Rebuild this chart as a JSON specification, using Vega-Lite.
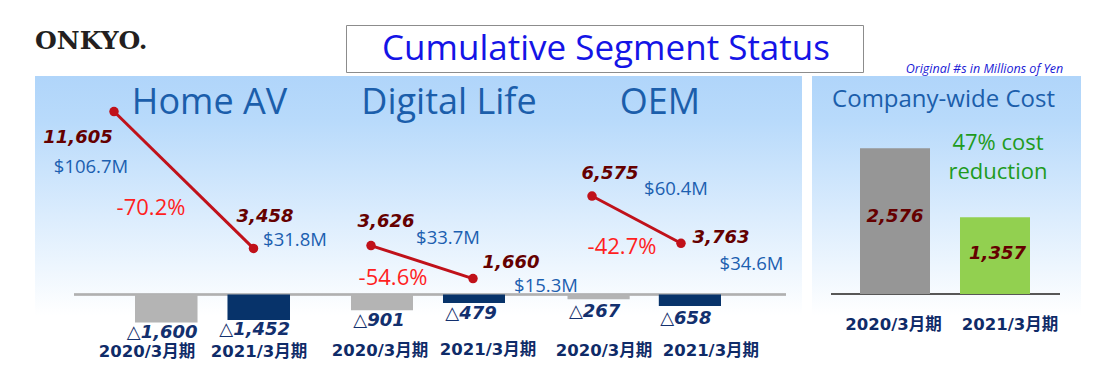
{
 "$schema": "https://vega.github.io/schema/vega-lite/v6.json",
 "background": "white",
 "padding": {"left": 35, "top": 24, "right": 0, "bottom": 0},
 "config": {"view": {"stroke": null}},
 "datasets": {
  "seg": [
   {"segment": "Home AV", "period": "2020/3月期", "revenue": 11605, "usd": "$106.7M", "op": -1600, "oplabel": "△1,600", "change": "-70.2%"},
   {"segment": "Home AV", "period": "2021/3月期", "revenue": 3458, "usd": "$31.8M", "op": -1452, "oplabel": "△1,452", "change": "-70.2%"},
   {"segment": "Digital Life", "period": "2020/3月期", "revenue": 3626, "usd": "$33.7M", "op": -901, "oplabel": "△901", "change": "-54.6%"},
   {"segment": "Digital Life", "period": "2021/3月期", "revenue": 1660, "usd": "$15.3M", "op": -479, "oplabel": "△479", "change": "-54.6%"},
   {"segment": "OEM", "period": "2020/3月期", "revenue": 6575, "usd": "$60.4M", "op": -267, "oplabel": "△267", "change": "-42.7%"},
   {"segment": "OEM", "period": "2021/3月期", "revenue": 3763, "usd": "$34.6M", "op": -658, "oplabel": "△658", "change": "-42.7%"}
  ],
  "cost": [
   {"period": "2020/3月期", "cost": 2576, "note": ""},
   {"period": "2021/3月期", "cost": 1357, "note": "47% cost\nreduction"}
  ],
  "header": [{"logo": "ONKYO.", "title": "Cumulative Segment Status", "unit": "Original #s in Millions of Yen"}]
 },
 "spacing": 0,
 "vconcat": [
  {
   "spacing": 0,
   "bounds": "flush",
   "hconcat": [
    {"width": 311, "height": 51, "view": {"stroke": null}, "data": {"name": "header"},
     "mark": {"type": "text", "font": "DejaVu Serif", "fontSize": 25, "fontWeight": "bold", "color": "#231f20", "align": "left", "baseline": "middle", "dx": -155.5, "dy": -9.5},
     "encoding": {"text": {"field": "logo"}}},
    {"width": 517, "height": 47, "view": {"stroke": "#8c8c8c", "strokeWidth": 1, "fill": "white"}, "data": {"name": "header"},
     "mark": {"type": "text", "font": "Open Sans", "fontSize": 35, "color": "#1414e6", "align": "center", "baseline": "alphabetic", "dx": 1.5, "dy": 11.5},
     "encoding": {"text": {"field": "title"}}},
    {"width": 218, "height": 51, "view": {"stroke": null}, "data": {"name": "header"},
     "mark": {"type": "text", "font": "Open Sans", "fontSize": 12.5, "fontStyle": "italic", "color": "#1a1ad6", "align": "center", "baseline": "alphabetic", "dx": 12.5, "dy": 22.5},
     "encoding": {"text": {"field": "unit"}}}
   ]
  },
  {
   "spacing": 0,
   "bounds": "flush",
   "hconcat": [
    {"width": 39, "height": 292,
     "view": {"stroke": null, "fill": {"gradient": "linear", "x1": 0, "y1": 0, "x2": 0, "y2": 1, "stops": [{"offset": 0, "color": "#b0d5fa"}, {"offset": 0.15, "color": "#b8dafb"}, {"offset": 0.82, "color": "#ffffff"}, {"offset": 1, "color": "#ffffff"}]}},
     "data": {"values": [{}]}, "mark": {"type": "point", "opacity": 0}},
    {
     "width": 712, "height": 292,
     "view": {"stroke": null, "fill": {"gradient": "linear", "x1": 0, "y1": 0, "x2": 0, "y2": 1, "stops": [{"offset": 0, "color": "#b0d5fa"}, {"offset": 0.15, "color": "#b8dafb"}, {"offset": 0.82, "color": "#ffffff"}, {"offset": 1, "color": "#ffffff"}]}},
     "data": {"name": "seg"},
     "resolve": {"scale": {"x": "independent", "y": "independent"}, "axis": {"x": "independent", "y": "independent"}},
     "layer": [
      {"mark": {"type": "rule", "color": "#b0b0b0", "strokeWidth": 1.5},
       "encoding": {"y": {"datum": 0, "type": "quantitative", "scale": {"domain": [-4200, 12486], "nice": false}, "axis": null}}},

      {"transform": [{"filter": "datum.segment === 'Home AV'"}],
       "layer": [
        {"mark": {"type": "bar"},
         "encoding": {
          "x": {"field": "period", "type": "nominal", "scale": {"range": [61, 216], "paddingInner": 0.324, "paddingOuter": 0}, "axis": null},
          "y": {"field": "op", "type": "quantitative", "scale": {"domain": [-4200, 12486], "nice": false}, "axis": null},
          "color": {"condition": {"test": "datum.period === '2020/3月期'", "value": "#b4b4b4"}, "value": "#07336a"}}},
        {"mark": {"type": "text", "font": "DejaVu Sans", "fontSize": 18, "fontWeight": "bold", "fontStyle": "italic", "color": "#13306e", "align": "center", "baseline": "middle", "dx": -4, "dy": 10},
         "encoding": {"x": {"field": "period", "type": "nominal", "axis": null}, "y": {"field": "op", "type": "quantitative", "axis": null}, "text": {"field": "oplabel"}}},
        {"transform": [{"filter": "datum.period === '2020/3月期'"}],
         "mark": {"type": "text", "font": "DejaVu Sans, Noto Sans CJK JP", "fontSize": 16.5, "fontWeight": "bold", "color": "#0f2b68", "align": "center", "baseline": "middle", "dx": -19.25, "dy": 57.5},
         "encoding": {"x": {"field": "period", "type": "nominal", "axis": null}, "y": {"datum": 0, "type": "quantitative", "axis": null}, "text": {"field": "period"}}},
        {"transform": [{"filter": "datum.period === '2021/3月期'"}],
         "mark": {"type": "text", "font": "DejaVu Sans, Noto Sans CJK JP", "fontSize": 16.5, "fontWeight": "bold", "color": "#0f2b68", "align": "center", "baseline": "middle", "dx": 0.25, "dy": 57.5},
         "encoding": {"x": {"field": "period", "type": "nominal", "axis": null}, "y": {"datum": 0, "type": "quantitative", "axis": null}, "text": {"field": "period"}}},
        {"transform": [{"filter": "datum.period === '2020/3月期'"}],
         "mark": {"type": "text", "font": "Open Sans", "fontSize": 36, "color": "#1b5eab", "align": "center", "baseline": "alphabetic", "dx": 43.25, "dy": -208.5},
         "encoding": {"x": {"field": "period", "type": "nominal", "axis": null}, "y": {"field": "op", "type": "quantitative", "axis": null}, "text": {"field": "segment"}}}
       ]},
      {"transform": [{"filter": "datum.segment === 'Home AV'"}],
       "encoding": {
        "x": {"field": "period", "type": "nominal", "scale": {"type": "point", "range": [40, 179.5], "padding": 0}, "axis": null},
        "y": {"field": "revenue", "type": "quantitative", "scale": {"domain": [-3661, 13720], "nice": false}, "axis": null}},
       "layer": [
        {"mark": {"type": "line", "color": "#c0111a", "strokeWidth": 3, "point": {"filled": true, "size": 90, "color": "#c0111a"}}},
        {"transform": [{"filter": "datum.period === '2020/3月期'"}],
         "mark": {"type": "text", "font": "DejaVu Sans", "fontSize": 18, "fontWeight": "bold", "fontStyle": "italic", "color": "#650000", "align": "center", "baseline": "middle", "dx": -36, "dy": 26.5},
         "encoding": {"text": {"field": "revenue", "type": "quantitative", "format": ","}}},
        {"transform": [{"filter": "datum.period === '2021/3月期'"}],
         "mark": {"type": "text", "font": "DejaVu Sans", "fontSize": 18, "fontWeight": "bold", "fontStyle": "italic", "color": "#650000", "align": "center", "baseline": "middle", "dx": 11.5, "dy": -31.4},
         "encoding": {"text": {"field": "revenue", "type": "quantitative", "format": ","}}},
        {"transform": [{"filter": "datum.period === '2020/3月期'"}],
         "mark": {"type": "text", "font": "Open Sans", "fontSize": 18.5, "color": "#1c5fb0", "align": "center", "baseline": "middle", "dx": -23, "dy": 55.5},
         "encoding": {"text": {"field": "usd"}}},
        {"transform": [{"filter": "datum.period === '2021/3月期'"}],
         "mark": {"type": "text", "font": "Open Sans", "fontSize": 18.5, "color": "#1c5fb0", "align": "center", "baseline": "middle", "dx": 41.5, "dy": -8.4},
         "encoding": {"text": {"field": "usd"}}},
        {"transform": [{"filter": "datum.period === '2020/3月期'"}],
         "mark": {"type": "text", "font": "Open Sans", "fontSize": 22, "color": "#ff1f1f", "align": "center", "baseline": "middle", "dx": 37, "dy": 96.5},
         "encoding": {"text": {"field": "change"}}}
       ]},

      {"transform": [{"filter": "datum.segment === 'Digital Life'"}],
       "layer": [
        {"mark": {"type": "bar"},
         "encoding": {
          "x": {"field": "period", "type": "nominal", "scale": {"range": [277, 431], "paddingInner": 0.326, "paddingOuter": 0}, "axis": null},
          "y": {"field": "op", "type": "quantitative", "scale": {"domain": [-4200, 12486], "nice": false}, "axis": null},
          "color": {"condition": {"test": "datum.period === '2020/3月期'", "value": "#b4b4b4"}, "value": "#07336a"}}},
        {"mark": {"type": "text", "font": "DejaVu Sans", "fontSize": 18, "fontWeight": "bold", "fontStyle": "italic", "color": "#13306e", "align": "center", "baseline": "middle", "dx": -3, "dy": 11},
         "encoding": {"x": {"field": "period", "type": "nominal", "axis": null}, "y": {"field": "op", "type": "quantitative", "axis": null}, "text": {"field": "oplabel"}}},
        {"transform": [{"filter": "datum.period === '2020/3月期'"}],
         "mark": {"type": "text", "font": "DejaVu Sans, Noto Sans CJK JP", "fontSize": 16.5, "fontWeight": "bold", "color": "#0f2b68", "align": "center", "baseline": "middle", "dx": -2, "dy": 56},
         "encoding": {"x": {"field": "period", "type": "nominal", "axis": null}, "y": {"datum": 0, "type": "quantitative", "axis": null}, "text": {"field": "period"}}},
        {"transform": [{"filter": "datum.period === '2021/3月期'"}],
         "mark": {"type": "text", "font": "DejaVu Sans, Noto Sans CJK JP", "fontSize": 16.5, "fontWeight": "bold", "color": "#0f2b68", "align": "center", "baseline": "middle", "dx": 14, "dy": 55},
         "encoding": {"x": {"field": "period", "type": "nominal", "axis": null}, "y": {"datum": 0, "type": "quantitative", "axis": null}, "text": {"field": "period"}}},
        {"transform": [{"filter": "datum.period === '2020/3月期'"}],
         "mark": {"type": "text", "font": "Open Sans", "fontSize": 36, "color": "#1b5eab", "align": "center", "baseline": "alphabetic", "dx": 67, "dy": -196.3},
         "encoding": {"x": {"field": "period", "type": "nominal", "axis": null}, "y": {"field": "op", "type": "quantitative", "axis": null}, "text": {"field": "segment"}}}
       ]},
      {"transform": [{"filter": "datum.segment === 'Digital Life'"}],
       "encoding": {
        "x": {"field": "period", "type": "nominal", "scale": {"type": "point", "range": [297, 399], "padding": 0}, "axis": null},
        "y": {"field": "revenue", "type": "quantitative", "scale": {"domain": [-3661, 13720], "nice": false}, "axis": null}},
       "layer": [
        {"mark": {"type": "line", "color": "#c0111a", "strokeWidth": 3, "point": {"filled": true, "size": 90, "color": "#c0111a"}}},
        {"transform": [{"filter": "datum.period === '2020/3月期'"}],
         "mark": {"type": "text", "font": "DejaVu Sans", "fontSize": 18, "fontWeight": "bold", "fontStyle": "italic", "color": "#650000", "align": "center", "baseline": "middle", "dx": 15, "dy": -23.6},
         "encoding": {"text": {"field": "revenue", "type": "quantitative", "format": ","}}},
        {"transform": [{"filter": "datum.period === '2021/3月期'"}],
         "mark": {"type": "text", "font": "DejaVu Sans", "fontSize": 18, "fontWeight": "bold", "fontStyle": "italic", "color": "#650000", "align": "center", "baseline": "middle", "dx": 38, "dy": -15.6},
         "encoding": {"text": {"field": "revenue", "type": "quantitative", "format": ","}}},
        {"transform": [{"filter": "datum.period === '2020/3月期'"}],
         "mark": {"type": "text", "font": "Open Sans", "fontSize": 18.5, "color": "#1c5fb0", "align": "center", "baseline": "middle", "dx": 77, "dy": -7.6},
         "encoding": {"text": {"field": "usd"}}},
        {"transform": [{"filter": "datum.period === '2021/3月期'"}],
         "mark": {"type": "text", "font": "Open Sans", "fontSize": 18.5, "color": "#1c5fb0", "align": "center", "baseline": "middle", "dx": 73, "dy": 7.4},
         "encoding": {"text": {"field": "usd"}}},
        {"transform": [{"filter": "datum.period === '2020/3月期'"}],
         "mark": {"type": "text", "font": "Open Sans", "fontSize": 22, "color": "#ff1f1f", "align": "center", "baseline": "middle", "dx": 22, "dy": 32.4},
         "encoding": {"text": {"field": "change"}}}
       ]},

      {"transform": [{"filter": "datum.segment === 'OEM'"}],
       "layer": [
        {"mark": {"type": "bar"},
         "encoding": {
          "x": {"field": "period", "type": "nominal", "scale": {"range": [493.5, 647], "paddingInner": 0.319, "paddingOuter": 0}, "axis": null},
          "y": {"field": "op", "type": "quantitative", "scale": {"domain": [-4200, 12486], "nice": false}, "axis": null},
          "color": {"condition": {"test": "datum.period === '2020/3月期'", "value": "#b4b4b4"}, "value": "#07336a"}}},
        {"mark": {"type": "text", "font": "DejaVu Sans", "fontSize": 18, "fontWeight": "bold", "fontStyle": "italic", "color": "#13306e", "align": "center", "baseline": "middle", "dx": -4, "dy": 13},
         "encoding": {"x": {"field": "period", "type": "nominal", "axis": null}, "y": {"field": "op", "type": "quantitative", "axis": null}, "text": {"field": "oplabel"}}},
        {"transform": [{"filter": "datum.period === '2020/3月期'"}],
         "mark": {"type": "text", "font": "DejaVu Sans, Noto Sans CJK JP", "fontSize": 16.5, "fontWeight": "bold", "color": "#0f2b68", "align": "center", "baseline": "middle", "dx": 5.5, "dy": 56},
         "encoding": {"x": {"field": "period", "type": "nominal", "axis": null}, "y": {"datum": 0, "type": "quantitative", "axis": null}, "text": {"field": "period"}}},
        {"transform": [{"filter": "datum.period === '2021/3月期'"}],
         "mark": {"type": "text", "font": "DejaVu Sans, Noto Sans CJK JP", "fontSize": 16.5, "fontWeight": "bold", "color": "#0f2b68", "align": "center", "baseline": "middle", "dx": 21, "dy": 56.5},
         "encoding": {"x": {"field": "period", "type": "nominal", "axis": null}, "y": {"datum": 0, "type": "quantitative", "axis": null}, "text": {"field": "period"}}},
        {"transform": [{"filter": "datum.period === '2020/3月期'"}],
         "mark": {"type": "text", "font": "Open Sans", "fontSize": 36, "color": "#1b5eab", "align": "center", "baseline": "alphabetic", "dx": 61.25, "dy": -185.2},
         "encoding": {"x": {"field": "period", "type": "nominal", "axis": null}, "y": {"field": "op", "type": "quantitative", "axis": null}, "text": {"field": "segment"}}}
       ]},
      {"transform": [{"filter": "datum.segment === 'OEM'"}],
       "encoding": {
        "x": {"field": "period", "type": "nominal", "scale": {"type": "point", "range": [518, 607], "padding": 0}, "axis": null},
        "y": {"field": "revenue", "type": "quantitative", "scale": {"domain": [-3661, 13720], "nice": false}, "axis": null}},
       "layer": [
        {"mark": {"type": "line", "color": "#c0111a", "strokeWidth": 3, "point": {"filled": true, "size": 90, "color": "#c0111a"}}},
        {"transform": [{"filter": "datum.period === '2020/3月期'"}],
         "mark": {"type": "text", "font": "DejaVu Sans", "fontSize": 18, "fontWeight": "bold", "fontStyle": "italic", "color": "#650000", "align": "center", "baseline": "middle", "dx": 18, "dy": -22},
         "encoding": {"text": {"field": "revenue", "type": "quantitative", "format": ","}}},
        {"transform": [{"filter": "datum.period === '2021/3月期'"}],
         "mark": {"type": "text", "font": "DejaVu Sans", "fontSize": 18, "fontWeight": "bold", "fontStyle": "italic", "color": "#650000", "align": "center", "baseline": "middle", "dx": 40, "dy": -4.8},
         "encoding": {"text": {"field": "revenue", "type": "quantitative", "format": ","}}},
        {"transform": [{"filter": "datum.period === '2020/3月期'"}],
         "mark": {"type": "text", "font": "Open Sans", "fontSize": 18.5, "color": "#1c5fb0", "align": "center", "baseline": "middle", "dx": 84, "dy": -7.5},
         "encoding": {"text": {"field": "usd"}}},
        {"transform": [{"filter": "datum.period === '2021/3月期'"}],
         "mark": {"type": "text", "font": "Open Sans", "fontSize": 18.5, "color": "#1c5fb0", "align": "center", "baseline": "middle", "dx": 70.5, "dy": 21.2},
         "encoding": {"text": {"field": "usd"}}},
        {"transform": [{"filter": "datum.period === '2020/3月期'"}],
         "mark": {"type": "text", "font": "Open Sans", "fontSize": 22, "color": "#ff1f1f", "align": "center", "baseline": "middle", "dx": 30, "dy": 51},
         "encoding": {"text": {"field": "change"}}}
       ]}
     ]
    },
    {"width": 16, "height": 292,
     "view": {"stroke": null, "fill": {"gradient": "linear", "x1": 0, "y1": 0, "x2": 0, "y2": 1, "stops": [{"offset": 0, "color": "#b0d5fa"}, {"offset": 0.15, "color": "#b8dafb"}, {"offset": 0.82, "color": "#ffffff"}, {"offset": 1, "color": "#ffffff"}]}},
     "data": {"values": [{}]}, "mark": {"type": "point", "opacity": 0}},
    {"width": 10, "height": 292, "view": {"stroke": null},
     "data": {"values": [{}]}, "mark": {"type": "point", "opacity": 0}},
    {"width": 19, "height": 292,
     "view": {"stroke": null, "fill": {"gradient": "linear", "x1": 0, "y1": 0, "x2": 0, "y2": 1, "stops": [{"offset": 0, "color": "#b0d5fa"}, {"offset": 0.15, "color": "#b8dafb"}, {"offset": 0.82, "color": "#ffffff"}, {"offset": 1, "color": "#ffffff"}]}},
     "data": {"values": [{}]}, "mark": {"type": "point", "opacity": 0}},
    {
     "width": 229, "height": 292,
     "view": {"stroke": null, "fill": {"gradient": "linear", "x1": 0, "y1": 0, "x2": 0, "y2": 1, "stops": [{"offset": 0, "color": "#b0d5fa"}, {"offset": 0.15, "color": "#b8dafb"}, {"offset": 0.82, "color": "#ffffff"}, {"offset": 1, "color": "#ffffff"}]}},
     "data": {"name": "cost"},
     "layer": [
      {"mark": {"type": "rule", "color": "#4d4d4d", "strokeWidth": 1.5},
       "encoding": {"y": {"datum": 0, "type": "quantitative", "scale": {"domain": [-1307, 3852], "nice": false}, "axis": null}}},
      {"mark": {"type": "bar"},
       "encoding": {
        "x": {"field": "period", "type": "nominal", "scale": {"paddingInner": 0.3, "paddingOuter": 0.295, "align": 0.4915}, "axis": null},
        "y": {"field": "cost", "type": "quantitative", "scale": {"domain": [-1307, 3852], "nice": false}, "axis": null},
        "color": {"condition": {"test": "datum.period === '2020/3月期'", "value": "#969696"}, "value": "#92d050"}}},
      {"transform": [{"filter": "datum.period === '2020/3月期'"}],
       "mark": {"type": "text", "font": "DejaVu Sans, Noto Sans CJK JP", "fontSize": 16.5, "fontWeight": "bold", "color": "#0f2b68", "align": "center", "baseline": "middle", "dx": -1.5, "dy": 31},
       "encoding": {"x": {"field": "period", "type": "nominal", "axis": null}, "y": {"datum": 0, "type": "quantitative", "axis": null}, "text": {"field": "period"}}},
      {"transform": [{"filter": "datum.period === '2021/3月期'"}],
       "mark": {"type": "text", "font": "DejaVu Sans, Noto Sans CJK JP", "fontSize": 16.5, "fontWeight": "bold", "color": "#0f2b68", "align": "center", "baseline": "middle", "dx": 15, "dy": 31},
       "encoding": {"x": {"field": "period", "type": "nominal", "axis": null}, "y": {"datum": 0, "type": "quantitative", "axis": null}, "text": {"field": "period"}}},
      {"transform": [{"filter": "datum.period === '2020/3月期'"}],
       "mark": {"type": "text", "font": "Open Sans", "fontSize": 24, "color": "#1b5eab", "align": "center", "baseline": "alphabetic", "dx": 48.5, "dy": -41.2},
       "encoding": {"x": {"field": "period", "type": "nominal", "axis": null}, "y": {"field": "cost", "type": "quantitative", "axis": null}, "text": {"value": "Company-wide Cost"}}},
      {"transform": [{"filter": "datum.period === '2020/3月期'"}],
       "mark": {"type": "text", "font": "DejaVu Sans", "fontSize": 18, "fontWeight": "bold", "fontStyle": "italic", "color": "#650000", "align": "center", "baseline": "middle", "dx": 0, "dy": 68.8},
       "encoding": {"x": {"field": "period", "type": "nominal", "axis": null}, "y": {"field": "cost", "type": "quantitative", "axis": null}, "text": {"field": "cost", "type": "quantitative", "format": ","}}},
      {"transform": [{"filter": "datum.period === '2021/3月期'"}],
       "mark": {"type": "text", "font": "DejaVu Sans", "fontSize": 18, "fontWeight": "bold", "fontStyle": "italic", "color": "#650000", "align": "center", "baseline": "middle", "dx": 2.5, "dy": 36.8},
       "encoding": {"x": {"field": "period", "type": "nominal", "axis": null}, "y": {"field": "cost", "type": "quantitative", "axis": null}, "text": {"field": "cost", "type": "quantitative", "format": ","}}},
      {"transform": [{"filter": "datum.period === '2021/3月期'"}],
       "mark": {"type": "text", "font": "Open Sans", "fontSize": 22, "color": "#1e9b1e", "align": "center", "baseline": "alphabetic", "lineBreak": "\n", "lineHeight": 29, "dx": 3, "dy": -67.2},
       "encoding": {"x": {"field": "period", "type": "nominal", "axis": null}, "y": {"field": "cost", "type": "quantitative", "axis": null}, "text": {"field": "note"}}}
     ]
    },
    {"width": 21, "height": 292,
     "view": {"stroke": null, "fill": {"gradient": "linear", "x1": 0, "y1": 0, "x2": 0, "y2": 1, "stops": [{"offset": 0, "color": "#b0d5fa"}, {"offset": 0.15, "color": "#b8dafb"}, {"offset": 0.82, "color": "#ffffff"}, {"offset": 1, "color": "#ffffff"}]}},
     "data": {"values": [{}]}, "mark": {"type": "point", "opacity": 0}}
   ]
  }
 ]
}
